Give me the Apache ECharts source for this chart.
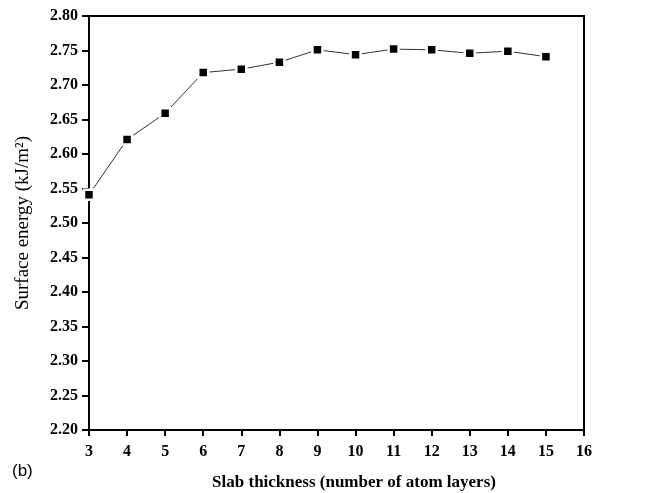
<!DOCTYPE html>
<html>
<head>
<meta charset="utf-8">
<script src="https://cdn.jsdelivr.net/npm/echarts@6/dist/echarts.min.js"></script>
<style>
  html, body { margin: 0; padding: 0; background: #fff; }
  #chart { width: 665px; height: 493px; }
</style>
</head>
<body>
<div id="chart"></div>
<script>
// slab thickness (number of atom layers)
const layers = [3, 4, 5, 6, 7, 8, 9, 10, 11, 12, 13, 14, 15]
// surface energy, kJ/m^2
const energy = [2.541, 2.621, 2.659, 2.718, 2.723, 2.733, 2.751, 2.744, 2.752, 2.751, 2.746, 2.749, 2.741]

const serif = '"Liberation Serif", "DejaVu Serif", serif'

const chart = echarts.init(document.getElementById('chart'))

const option = {
  backgroundColor: '#fff',
  animation: false,
  grid: {
    left: 89,
    top: 16,
    right: 81,
    bottom: 63,
    show: true,
    borderColor: '#000',
    borderWidth: 2
  },
  xAxis: {
    type: 'value',
    min: 3,
    max: 16,
    interval: 1,
    splitLine: { show: false },
    axisLine: { onZero: false, lineStyle: { color: '#000', width: 2 } },
    axisTick: { inside: false, length: 6, lineStyle: { color: '#000', width: 2 } },
    axisLabel: { margin: 14, fontFamily: serif, fontWeight: 'bold', fontSize: 16, color: '#000' }
  },
  yAxis: {
    type: 'value',
    min: 2.2,
    max: 2.8,
    interval: 0.05,
    name: 'Surface energy (kJ/m²)',
    nameLocation: 'middle',
    nameGap: 56,
    nameTextStyle: { fontFamily: serif, fontSize: 19, color: '#000', padding: [0, 0, 0, 0] },
    splitLine: { show: false },
    axisLine: { show: true, onZero: false, lineStyle: { color: '#000', width: 2 } },
    axisTick: { show: true, inside: false, length: 7, lineStyle: { color: '#000', width: 2 } },
    axisLabel: {
      margin: 11,
      fontFamily: serif,
      fontWeight: 'bold',
      fontSize: 16,
      color: '#000',
      formatter: (v) => v.toFixed(2)
    }
  },
  graphic: [
    {
      type: 'text',
      left: 12,
      top: 463,
      style: { text: '(b)', font: '17px "Liberation Sans", Arial, sans-serif', fill: '#000' }
    },
    {
      type: 'text',
      x: 354,
      y: 483,
      style: {
        text: 'Slab thickness (number of atom layers)',
        font: 'bold 17px "Liberation Serif", serif',
        fill: '#000',
        align: 'center',
        verticalAlign: 'middle'
      }
    }
  ],
  series: [
    {
      type: 'line',
      data: layers.map((x, i) => [x, energy[i]]),
      symbol: 'rect',
      symbolSize: 10,
      lineStyle: { color: '#333', width: 1 },
      itemStyle: { color: '#000', borderColor: '#fff', borderWidth: 2.5 },
      z: 3
    }
  ]
}

chart.setOption(option)
</script>
</body>
</html>
